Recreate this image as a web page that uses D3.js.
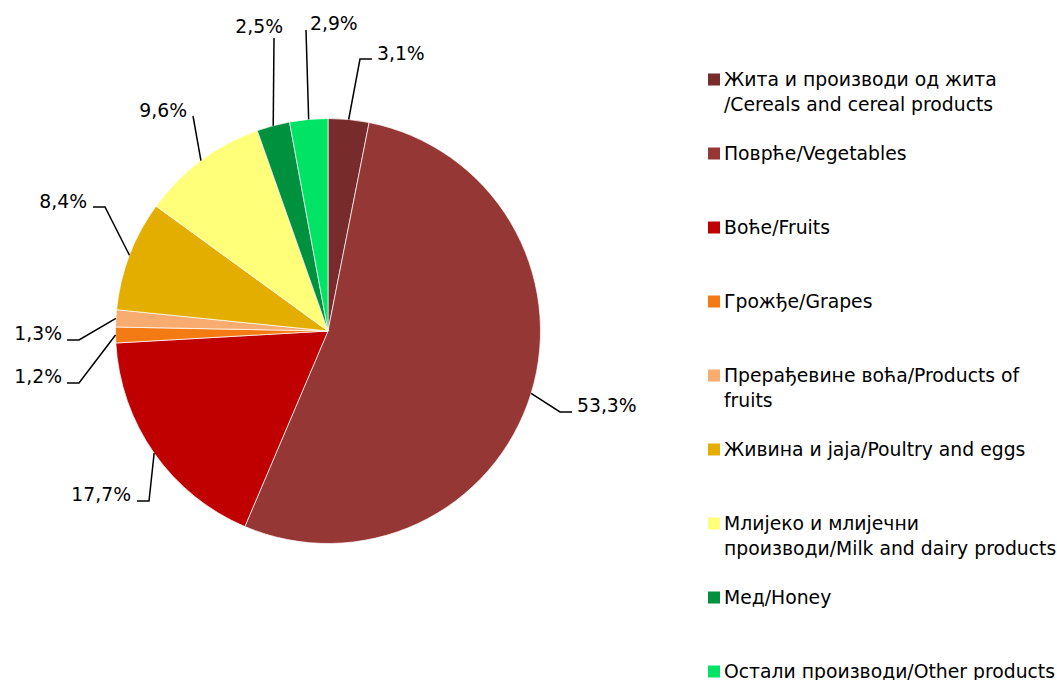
<!DOCTYPE html>
<html>
<head>
<meta charset="utf-8">
<script src="https://cdn.jsdelivr.net/npm/d3@7"></script>
<style>
  body { margin: 0; background: #fff; }
  svg text { font-family: "DejaVu Sans", Tahoma, Verdana, sans-serif; font-size: 18.8px; fill: #000; }
</style>
</head>
<body>
<svg id="chart" width="1057" height="680"></svg>
<script>
// categories (legend text, \n = line break as in the original)
var categories = [
    "Жита и производи од жита\n/Cereals and cereal products",
    "Поврће/Vegetables",
    "Воће/Fruits",
    "Грожђе/Grapes",
    "Прерађевине воћа/Products of\nfruits",
    "Живина и jaja/Poultry and eggs",
    "Млијеко и млијечни\nпроизводи/Milk and dairy products",
    "Мед/Honey",
    "Остали производи/Other products"
];
var shares = [3.1, 53.3, 17.7, 1.2, 1.3, 8.4, 9.6, 2.5, 2.9];
var colors = ["#772b2b", "#953735", "#c00000", "#f47b14", "#f9ac70", "#e4ae00", "#ffff7a", "#00913f", "#00e364"];

// where excel put each data label (text baseline) and the end of its leader line
var labelLayout = [
    { x: 377, y: 60,  anchor: "start", lx: 372, ly: 59,  tail: -12 },
    { x: 577, y: 412, anchor: "start", lx: 572, ly: 412, tail: -12 },
    { x: 131, y: 501, anchor: "end",   lx: 137, ly: 501, tail: 12 },
    { x: 62,  y: 383, anchor: "end",   lx: 67,  ly: 383, tail: 12 },
    { x: 62,  y: 340, anchor: "end",   lx: 67,  ly: 340, tail: 12 },
    { x: 87,  y: 208, anchor: "end",   lx: 93,  ly: 207, tail: 12 },
    { x: 187, y: 117, anchor: "end",   lx: 193, ly: 116, tail: 0 },
    { x: 283, y: 33,  anchor: "end",   lx: 274, ly: 38,  tail: 0 },
    { x: 310, y: 30,  anchor: "start", lx: 306, ly: 30,  tail: 0 }
];

var svg = d3.select("#chart");
var cx = 328, cy = 331, radius = 212.5;

var pie = d3.pie().sort(null).value(function (d) { return d; });
var arcs = pie(shares);

var arc = d3.arc().innerRadius(0).outerRadius(radius);
var edgeArc = d3.arc().innerRadius(radius).outerRadius(radius);

var g = svg.append("g").attr("transform", "translate(" + cx + "," + cy + ")");

g.selectAll("path.slice")
    .data(arcs)
    .enter()
    .append("path")
    .attr("class", "slice")
    .attr("d", arc)
    .attr("fill", function (d, i) { return colors[i]; })
    .attr("stroke", "#fff")
    .attr("stroke-width", 0.7);

// leader lines
g.selectAll("path.leader")
    .data(arcs)
    .enter()
    .append("path")
    .attr("class", "leader")
    .attr("fill", "none")
    .attr("stroke", "#000")
    .attr("stroke-width", 1.5)
    .attr("d", function (d, i) {
        var p = edgeArc.centroid(d);
        var L = labelLayout[i];
        var end = [L.lx - cx, L.ly - cy];
        var pts = [p];
        if (L.tail) pts.push([end[0] + L.tail, end[1]]);
        pts.push(end);
        return d3.line()(pts);
    });

// data labels
svg.selectAll("text.dlabel")
    .data(arcs)
    .enter()
    .append("text")
    .attr("class", "dlabel")
    .attr("x", function (d, i) { return labelLayout[i].x; })
    .attr("y", function (d, i) { return labelLayout[i].y; })
    .attr("text-anchor", function (d, i) { return labelLayout[i].anchor; })
    .text(function (d) { return d3.format(".1f")(d.data).replace(".", ",") + "%"; });

// legend
var legend = svg.append("g").attr("transform", "translate(708,0)");
var legendY = d3.scaleLinear().domain([0, categories.length - 1]).range([85.5, 677.5]);

var items = legend.selectAll("g")
    .data(categories)
    .enter()
    .append("g")
    .attr("transform", function (d, i) { return "translate(0," + legendY(i) + ")"; });

items.append("rect")
    .attr("x", 0)
    .attr("y", -12)
    .attr("width", 12)
    .attr("height", 12)
    .attr("fill", function (d, i) { return colors[i]; });

items.append("text")
    .attr("x", 16)
    .attr("y", 0)
    .each(function (d) {
        var t = d3.select(this);
        d.split("\n").forEach(function (line, k) {
            t.append("tspan").attr("x", 16).attr("dy", k === 0 ? 0 : 25).text(line);
        });
    });
</script>
</body>
</html>
